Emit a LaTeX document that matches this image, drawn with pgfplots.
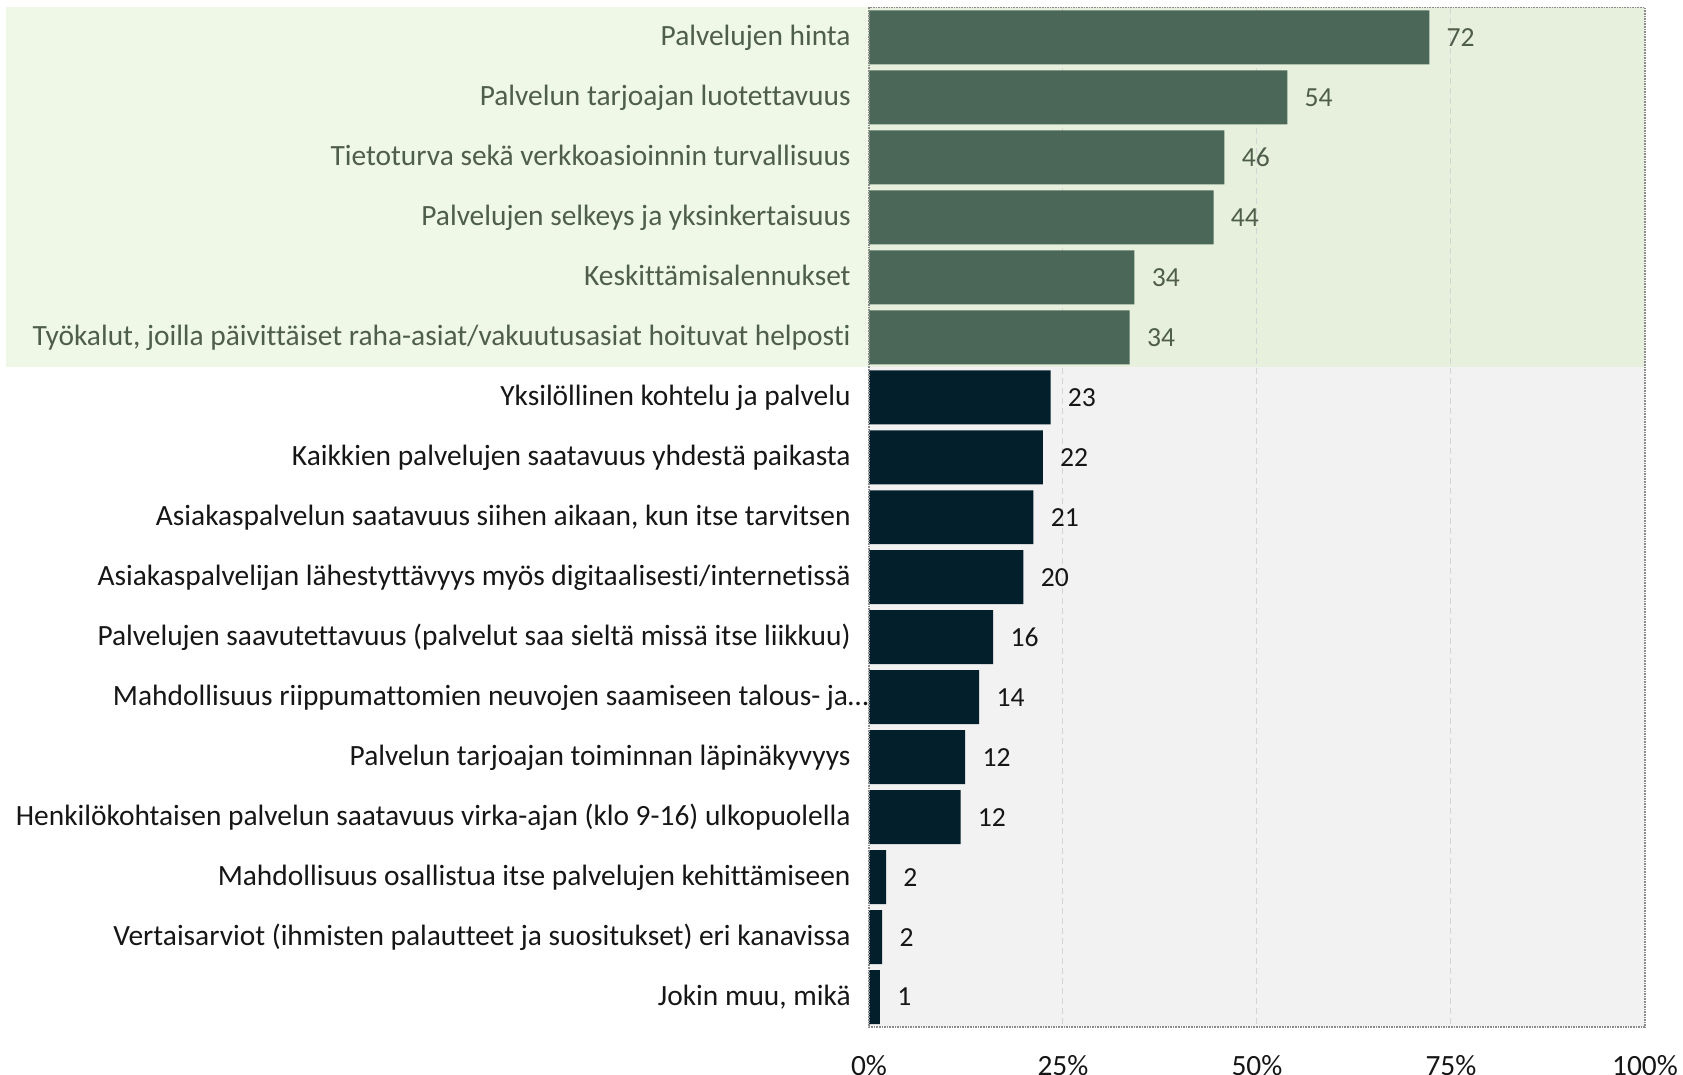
\documentclass[border=0pt]{standalone}
\usepackage{fontspec}
\setmainfont{Carlito}[Ligatures=NoCommon]
\usepackage{pgfplots}
\usepackage{pgfplotstable}
\pgfplotsset{compat=1.18}
\definecolor{bargreen}{RGB}{74,103,88}
\definecolor{barnavy}{RGB}{2,31,43}
\definecolor{bandout}{RGB}{239,248,231}
\definecolor{bandin}{RGB}{231,240,221}
\definecolor{plotgray}{RGB}{242,242,242}
\definecolor{labgreen}{RGB}{78,94,74}
\definecolor{labdark}{RGB}{22,22,22}
\definecolor{gridc}{RGB}{212,212,212}
\definecolor{borderc}{RGB}{140,140,140}

\pgfplotstableread{
y x lab
0 72.2 72
1 53.9 54
2 45.8 46
3 44.4 44
4 34.2 34
5 33.6 34
}\topdata
\pgfplotstableread{
y x lab
6 23.4 23
7 22.4 22
8 21.2 21
9 19.9 20
10 16.0 16
11 14.2 14
12 12.4 12
13 11.8 12
14 2.2 2
15 1.7 2
16 1.4 1
}\restdata

\begin{document}
\begin{tikzpicture}
\useasboundingbox (-434.5pt,-24pt) rectangle (407pt,513.5pt);
\begin{axis}[
  at={(0,0)}, anchor=south west,
  scale only axis, width=388pt, height=509.75pt,
  xbar, bar width=0.9,
  xmin=0, xmax=100, ymin=-0.5, ymax=16.5, y dir=reverse,
  xtick={0,25,50,75,100},
  xticklabels={0\%,25\%,50\%,75\%,100\%},
  ytick={0,...,16},
  yticklabels={
    {\textcolor{labgreen}{Palvelujen hinta}},
    {\textcolor{labgreen}{Palvelun tarjoajan luotettavuus}},
    {\textcolor{labgreen}{Tietoturva sekä verkkoasioinnin turvallisuus}},
    {\textcolor{labgreen}{Palvelujen selkeys ja yksinkertaisuus}},
    {\textcolor{labgreen}{Keskittämisalennukset}},
    {\textcolor{labgreen}{Työkalut, joilla päivittäiset raha-asiat/vakuutusasiat hoituvat helposti}},
    {Yksilöllinen kohtelu ja palvelu},
    {Kaikkien palvelujen saatavuus yhdestä paikasta},
    {Asiakaspalvelun saatavuus siihen aikaan, kun itse tarvitsen},
    {Asiakaspalvelijan lähestyttävyys myös digitaalisesti/internetissä},
    {Palvelujen saavutettavuus (palvelut saa sieltä missä itse liikkuu)},
    {Mahdollisuus riippumattomien neuvojen saamiseen talous- ja…\hspace*{-9pt}},
    {Palvelun tarjoajan toiminnan läpinäkyvyys},
    {Henkilökohtaisen palvelun saatavuus virka-ajan (klo 9-16) ulkopuolella},
    {Mahdollisuus osallistua itse palvelujen kehittämiseen},
    {Vertaisarviot (ihmisten palautteet ja suositukset) eri kanavissa},
    {Jokin muu, mikä}
  },
  major tick length=0pt,
  axis background/.style={fill=none},
  axis line style={draw=borderc, dash pattern=on 0.8pt off 0.5pt, line width=0.6pt},
  axis on top,
  clip=false,
  /pgf/number format/assume math mode=true,
  xticklabel style={font=\fontsize{14.7}{17}\selectfont, text=labdark, anchor=center, inner sep=0pt, yshift=-19.5pt},
  yticklabel style={font=\fontsize{14.7}{17}\selectfont, text=labdark, anchor=base east, inner sep=0pt, xshift=-9pt, yshift=-4.1pt},
  point meta=explicit symbolic,
]
\fill[plotgray] (axis cs:0,-0.5) rectangle (axis cs:100,16.5);
\fill[bandout] (axis cs:-111.2,-0.5) rectangle (axis cs:0,5.5);
\fill[bandin] (axis cs:0,-0.5) rectangle (axis cs:100,5.5);
\draw[gridc, dash pattern=on 3pt off 2pt, line width=0.5pt] (axis cs:25,-0.5) -- (axis cs:25,16.5);
\draw[gridc, dash pattern=on 3pt off 2pt, line width=0.5pt] (axis cs:50,-0.5) -- (axis cs:50,16.5);
\draw[gridc, dash pattern=on 3pt off 2pt, line width=0.5pt] (axis cs:75,-0.5) -- (axis cs:75,16.5);
\addplot[fill=bargreen, draw=none, bar shift=0pt, nodes near coords,
  nodes near coords style={anchor=west, inner sep=0pt, xshift=8.5pt, text=labgreen, font=\fontsize{13.8}{16}\selectfont}]
  table[x=x, y=y, meta=lab] {\topdata};
\addplot[fill=barnavy, draw=none, bar shift=0pt, nodes near coords,
  nodes near coords style={anchor=west, inner sep=0pt, xshift=8.5pt, text=labdark, font=\fontsize{13.8}{16}\selectfont}]
  table[x=x, y=y, meta=lab] {\restdata};
\node[anchor=west, inner sep=0pt, text=gray, font=\fontsize{16}{18}\selectfont] at (axis cs:104.6,4.04) {(};
\end{axis}
\end{tikzpicture}
\end{document}
